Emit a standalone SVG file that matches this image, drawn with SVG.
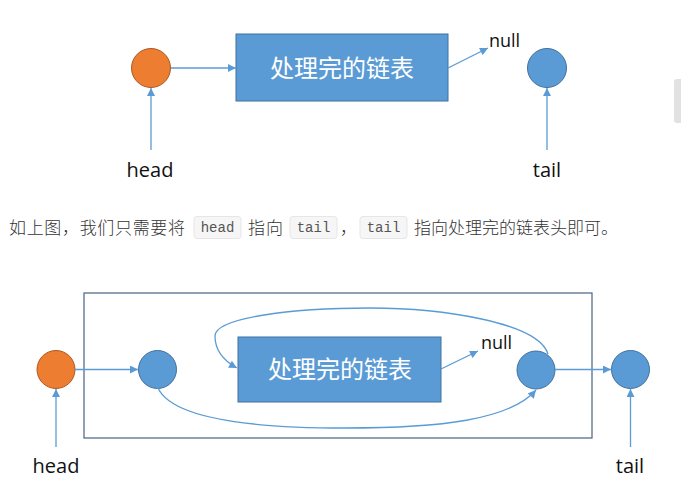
<svg xmlns="http://www.w3.org/2000/svg" width="681" height="497" viewBox="0 0 681 497">
<defs>
<marker id="ah" viewBox="0 0 10 10" refX="10" refY="5" markerWidth="9" markerHeight="8" markerUnits="userSpaceOnUse" orient="auto">
<path d="M0,0 L10,5 L0,10 Z" fill="#5B9BD5"/>
</marker>
<style>
.conn{fill:none;stroke:#5B9BD5;stroke-width:1.3;marker-end:url(#ah)}
.orange{fill:#ED7D31;stroke:#AE5A21;stroke-width:1}
.blue{fill:#5B9BD5;stroke:#41719C;stroke-width:1}
.box{fill:#5B9BD5;stroke:#41719C;stroke-width:1}
.boxt{font-family:"Noto Sans CJK SC",sans-serif;font-size:24px;fill:#ffffff;text-anchor:middle}
.lbl{font-family:"Open Sans","Noto Sans",sans-serif;font-size:20px;fill:#111;text-anchor:middle}
.nul{font-family:"Open Sans","Noto Sans",sans-serif;font-size:18px;fill:#111}
.para{font-family:"Noto Sans CJK SC",sans-serif;font-size:17px;font-weight:300;fill:#333}
.code{font-family:"Liberation Mono","DejaVu Sans Mono",monospace;font-size:14px;fill:#555;text-anchor:middle}
.codebg{fill:#f6f6f6;stroke:#e6e6e6;stroke-width:1}
</style>
</defs>
<rect width="681" height="497" fill="#ffffff"/>
<rect x="674" y="79" width="10" height="44" rx="3" fill="#e2e2e2"/>

<!-- top diagram -->
<g id="top-head-node"><circle class="orange" cx="151" cy="68" r="19.5"/></g>
<g id="top-list"><rect class="box" x="236" y="34" width="212" height="67"/><text class="boxt" x="342" y="77">处理完的链表</text></g>
<g id="top-tail-node"><circle class="blue" cx="547" cy="68" r="19.5"/></g>
<g id="top-null"><text class="nul" x="489" y="47">null</text></g>
<g id="top-head-label"><text class="lbl" x="150" y="177">head</text></g>
<g id="top-tail-label"><text class="lbl" x="547" y="177">tail</text></g>

<!-- paragraph -->
<g id="paragraph">
<text class="para" x="9" y="234" textLength="176">如上图，我们只需要将</text>
<rect class="codebg" x="194" y="216.5" width="47" height="22" rx="3"/>
<text class="code" x="217.5" y="232">head</text>
<text class="para" x="248" y="234" textLength="35">指向</text>
<rect class="codebg" x="290" y="216.5" width="47" height="22" rx="3"/>
<text class="code" x="313.5" y="232">tail</text>
<text class="para" x="340" y="234">，</text>
<rect class="codebg" x="360" y="216.5" width="47" height="22" rx="3"/>
<text class="code" x="383.5" y="232">tail</text>
<text class="para" x="414" y="234" textLength="204">指向处理完的链表头即可。</text>
</g>

<!-- bottom diagram -->
<g id="frame"><rect x="84" y="293" width="508" height="145" fill="none" stroke="#4a6283" stroke-width="1.2"/></g>
<g id="bot-head-node"><circle class="orange" cx="56" cy="369.5" r="19"/></g>
<g id="bot-node1"><circle class="blue" cx="157.5" cy="369.5" r="19"/></g>
<g id="bot-list"><rect class="box" x="238" y="337" width="203" height="65"/><text class="boxt" x="340" y="378">处理完的链表</text></g>
<g id="bot-null"><text class="nul" x="481" y="349">null</text></g>
<g id="bot-node2"><circle class="blue" cx="536" cy="370" r="19"/></g>
<g id="bot-tail-node"><circle class="blue" cx="630.5" cy="369.5" r="19"/></g>
<g id="bot-head-label"><text class="lbl" x="56" y="473">head</text></g>
<g id="bot-tail-label"><text class="lbl" x="630" y="473">tail</text></g>

<g id="connectors">
<line class="conn" x1="171" y1="68" x2="236" y2="68"/>
<line class="conn" x1="151" y1="150" x2="151" y2="88"/>
<line class="conn" x1="448" y1="68" x2="488" y2="48"/>
<line class="conn" x1="547" y1="150" x2="547" y2="88"/>

<line class="conn" x1="75" y1="369.5" x2="138" y2="369.5"/>
<line class="conn" x1="56" y1="447" x2="56" y2="389"/>
<line class="conn" x1="441" y1="369" x2="478" y2="351"/>
<line class="conn" x1="555" y1="369.5" x2="611" y2="369.5"/>
<line class="conn" x1="630.5" y1="447" x2="630.5" y2="389"/>
<path class="conn" d="M548,354 C538,322 440,308 370,308 C290,308 215,318 215,336 C215,352 226,362 237,368"/>
<path class="conn" d="M158,388 C172,418 250,428 345,428 C440,428 510,420 536,390"/>
</g>
</svg>
